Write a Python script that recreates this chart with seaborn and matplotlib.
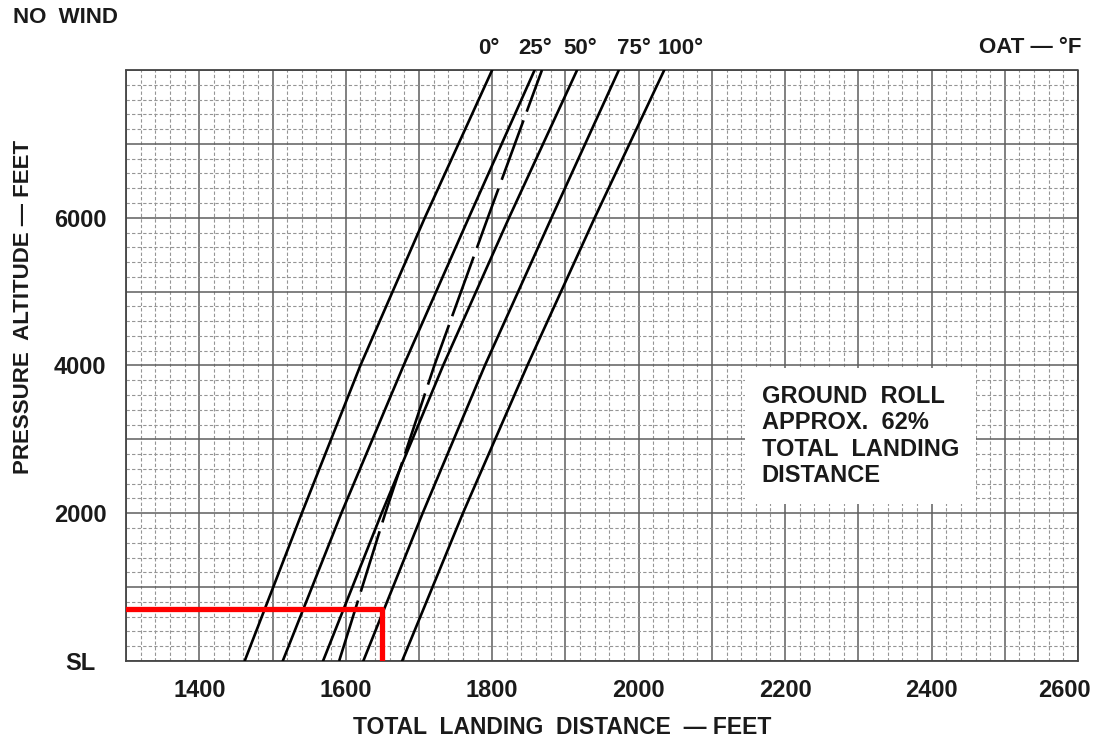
import numpy as np
import pandas as pd
import matplotlib
matplotlib.use("Agg")
import matplotlib.pyplot as plt
import seaborn as sns
from matplotlib.ticker import MultipleLocator
from matplotlib.transforms import ScaledTranslation

# ---------------- data ----------------
altitude_ft = [0, 2000, 4000, 6000, 8000]
oat_labels = ["0°", "25°", "50°", "75°", "100°"]
dist_0 = [1462, 1540, 1620, 1708, 1800]
dist_25 = [1514, 1594, 1679, 1768, 1858]
dist_50 = [1569, 1649, 1733, 1823, 1916]
dist_75 = [1624, 1705, 1790, 1881, 1973]
dist_100 = [1677, 1760, 1848, 1940, 2035]
dist_std = [1591, 1654, 1721, 1794, 1868]   # dashed (standard temperature) line

x_tick_values = [1400, 1600, 1800, 2000, 2200, 2400, 2600]
x_tick_labels = ["1400", "1600", "1800", "2000", "2200", "2400", "2600"]
y_tick_values = [0, 2000, 4000, 6000]
y_tick_labels = ["SL", "2000", "4000", "6000"]

example_altitude = 700
example_distance = 1650

note_text = "GROUND  ROLL\nAPPROX.  62%\nTOTAL  LANDING\nDISTANCE"

# ---------------- figure ----------------
sns.set_theme(style="white")
plt.rcParams["font.family"] = ["Liberation Sans", "DejaVu Sans"]
plt.rcParams["font.weight"] = "bold"

fig = plt.figure(figsize=(10.97, 7.43), dpi=100)
ax = fig.add_axes([0.1149, 0.1104, 0.8678, 0.7954])

xmin, xmax = 1300, 2600
ymin, ymax = 0, 8000

series = [dist_0, dist_25, dist_50, dist_75, dist_100]
df = pd.DataFrame({
    "distance": np.concatenate(series),
    "altitude": np.tile(altitude_ft, len(series)),
    "oat": np.repeat(oat_labels, len(altitude_ft)),
})
df_std = pd.DataFrame({"distance": dist_std, "altitude": altitude_ft})

sns.lineplot(data=df, x="distance", y="altitude", units="oat", estimator=None,
             sort=False, color="black", lw=1.9, ax=ax, zorder=5)
sns.lineplot(data=df_std, x="distance", y="altitude", estimator=None, sort=False,
             color="black", lw=1.9, ax=ax, zorder=5, linestyle=(0, (24, 3.5)))

# red example lines
sns.lineplot(x=[xmin, example_distance, example_distance],
             y=[example_altitude, example_altitude, ymin],
             estimator=None, sort=False, color="#ff0000", lw=3.8, ax=ax, zorder=6)

ax.set_xlim(xmin, xmax)
ax.set_ylim(ymin, ymax)

# grid: graph paper
ax.xaxis.set_major_locator(MultipleLocator(100))
ax.xaxis.set_minor_locator(MultipleLocator(20))
ax.yaxis.set_major_locator(MultipleLocator(1000))
ax.yaxis.set_minor_locator(MultipleLocator(200))
ax.grid(which="major", color="#5e5e5e", lw=1.1, ls="-", zorder=1)
ax.grid(which="minor", color="#959595", lw=0.8, ls=(0, (3, 2)), zorder=1)
ax.set_axisbelow(True)

xt = ax.get_xticks()
ax.set_xticks(xt)
ax.set_xticklabels([x_tick_labels[x_tick_values.index(v)] if v in x_tick_values else ""
                    for v in xt])
yt = ax.get_yticks()
ax.set_yticks(yt)
ax.set_yticklabels([y_tick_labels[y_tick_values.index(v)] if v in y_tick_values else ""
                    for v in yt])
ax.set_xlim(xmin, xmax)
ax.set_ylim(ymin, ymax)

ax.tick_params(axis="both", which="both", length=0)
ax.tick_params(axis="x", labelsize=17, pad=13, colors="#1a1a1a")
ax.tick_params(axis="y", labelsize=17, pad=33, colors="#1a1a1a")
for lab in ax.get_yticklabels():
    lab.set_horizontalalignment("center")
for lab in ax.get_xticklabels() + ax.get_yticklabels():
    lab.set_fontweight("bold")
# keep the last x label inside the figure, as in the reference
for lab in ax.get_xticklabels():
    if lab.get_text() == x_tick_labels[-1]:
        lab.set_transform(lab.get_transform() + ScaledTranslation(-10 / 72, 0, fig.dpi_scale_trans))

ax.set_xlabel("")
ax.set_ylabel("")
for sp in ax.spines.values():
    sp.set_color("#444444")
    sp.set_linewidth(1.3)
    sp.set_linestyle((0, (3, 1)))

# OAT labels above the curves
label_x = [1796, 1858, 1920, 1994, 2057]
for lx, txt in zip(label_x, oat_labels):
    ax.text(lx, 1.037, txt, transform=ax.get_xaxis_transform(), ha="center",
            va="center", fontsize=16, fontweight="bold", color="#1a1a1a", clip_on=False)

fig.text(0.9863, 0.9367, "OAT — °F", ha="right", va="center", fontsize=16,
         fontweight="bold", color="#1a1a1a")
fig.text(0.0119, 0.9758, "NO  WIND", ha="left", va="center", fontsize=16,
         fontweight="bold", color="#1a1a1a")
fig.text(0.5123, 0.0215, "TOTAL  LANDING  DISTANCE  — FEET", ha="center", va="center",
         fontsize=16.5, fontweight="bold", color="#1a1a1a")
fig.text(0.021, 0.587, "PRESSURE  ALTITUDE — FEET", ha="center", va="center",
         rotation=90, fontsize=16, fontweight="bold", color="#1a1a1a")

ax.text(2168, 3740, note_text, ha="left", va="top", fontsize=17, fontweight="bold",
        color="#1a1a1a", linespacing=1.2, zorder=7,
        bbox=dict(boxstyle="square,pad=0.7", facecolor="white", edgecolor="none"))

fig.savefig("out.png", dpi=100)
